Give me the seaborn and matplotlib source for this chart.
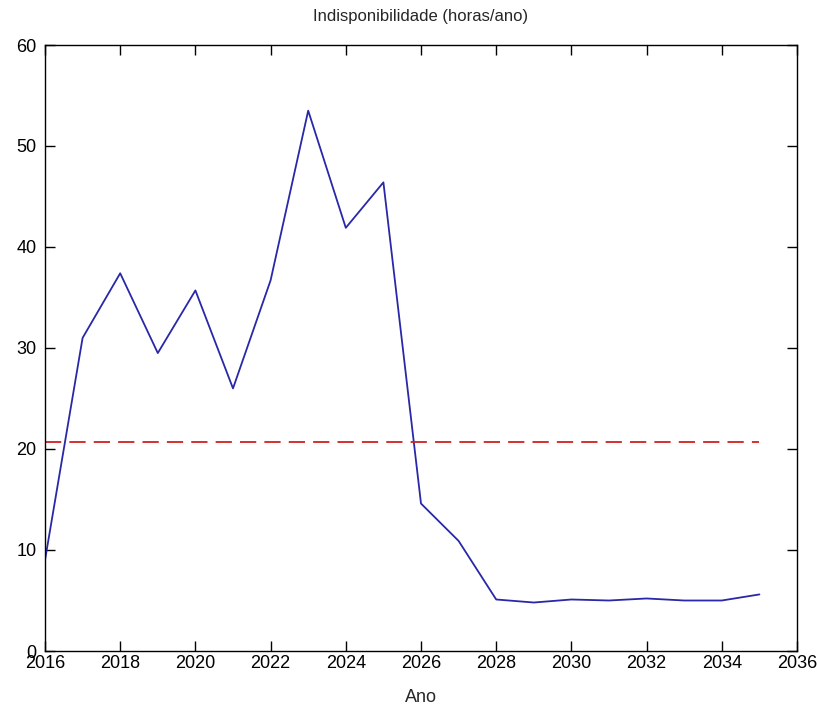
import matplotlib
matplotlib.use("Agg")
import matplotlib.pyplot as plt
import seaborn as sns
import pandas as pd
from matplotlib import font_manager

years = list(range(2016, 2036))
indisp = [9.0, 31.0, 37.4, 29.5, 35.7, 26.0, 36.7, 53.5, 41.9, 46.4,
          14.6, 10.9, 5.1, 4.8, 5.1, 5.0, 5.2, 5.0, 5.0, 5.6]
limit_years = [2016, 2035]
limit_vals = [20.7, 20.7]
xticks = list(range(2016, 2037, 2))
yticks = list(range(0, 61, 10))

sns.set_theme(style="white")
names = {f.name for f in font_manager.fontManager.ttflist}
cond = [n for n in ["DejaVu Sans Condensed", "Liberation Sans Narrow"] if n in names]
plt.rcParams['font.family'] = cond + ['Liberation Sans', 'DejaVu Sans']
fs = 15 if cond else 13

fig = plt.figure(figsize=(8.17, 7.15), dpi=100)
ax = fig.add_axes([45/817, 1-651/715, (797-45)/817, (651-45)/715])

df = pd.DataFrame({"Ano": years, "Indisp": indisp})
dl = pd.DataFrame({"Ano": limit_years, "Lim": limit_vals})
sns.lineplot(data=df, x="Ano", y="Indisp", ax=ax, color="#2828a8", linewidth=1.3)
sns.lineplot(data=dl, x="Ano", y="Lim", ax=ax, color="#d02020", linewidth=1.3,
             linestyle=(0, (9, 4.5)))

ax.set_xlim(2016, 2036)
ax.set_ylim(0, 60)
ax.set_xticks(xticks)
ax.set_yticks(yticks)
ax.set_xticklabels([str(t) for t in xticks], fontsize=fs)
ax.set_yticklabels([str(t) for t in yticks], fontsize=fs)
ax.tick_params(direction="in", length=7, width=1, top=True, right=True,
               bottom=True, left=True, colors="black", pad=3)
ax.tick_params(axis="y", pad=6)
for s in ax.spines.values():
    s.set_visible(True)
    s.set_color("black")
    s.set_linewidth(1)
ax.set_xlabel("Ano", fontsize=fs, labelpad=12)
ax.set_ylabel("")
ax.set_title("Indisponibilidade (horas/ano)", fontsize=fs - 1, pad=17)

fig.savefig("out.png", dpi=100, facecolor="white")
